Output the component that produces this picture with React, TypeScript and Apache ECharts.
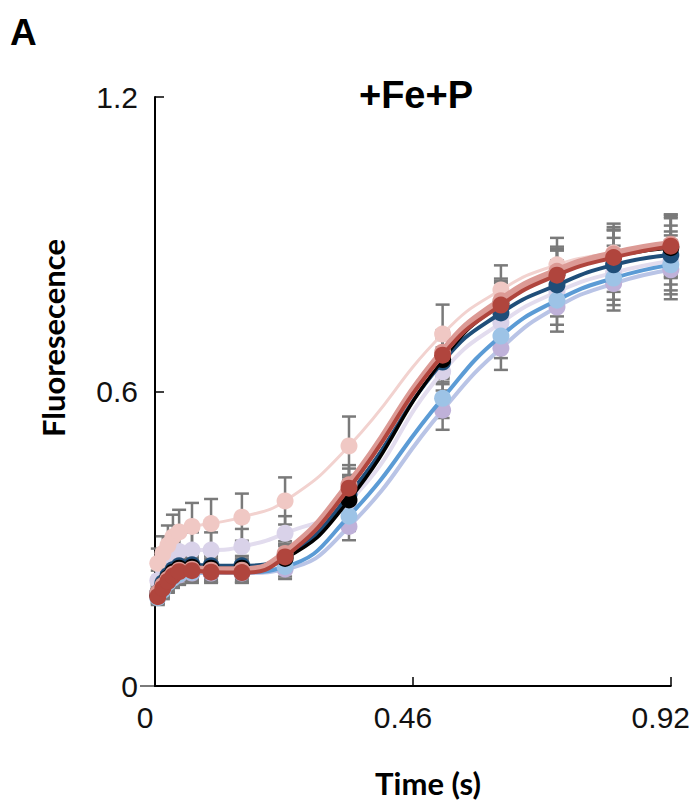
import React, { useEffect, useRef } from "react";
import * as echarts from "echarts";

const times = [0.005, 0.014, 0.023, 0.032, 0.043, 0.066, 0.1, 0.155, 0.232, 0.346, 0.513, 0.617, 0.717, 0.818, 0.92];
const xTicks = [0, 0.46, 0.92];
const yTicks = [0, 0.6, 1.2];

const pinkVals = [0.25, 0.27, 0.287, 0.304, 0.314, 0.325, 0.331, 0.344, 0.377, 0.489, 0.717, 0.807, 0.858, 0.882, 0.896];
const lavenderVals = [0.215, 0.24, 0.26, 0.27, 0.274, 0.277, 0.277, 0.284, 0.311, 0.375, 0.64, 0.74, 0.803, 0.842, 0.866];
const salmonVals = [0.19, 0.205, 0.218, 0.228, 0.236, 0.238, 0.236, 0.236, 0.27, 0.41, 0.68, 0.785, 0.845, 0.88, 0.9];
const redVals = [0.182, 0.199, 0.213, 0.224, 0.233, 0.235, 0.232, 0.231, 0.263, 0.403, 0.674, 0.776, 0.837, 0.873, 0.896];
const navyVals = [0.19, 0.21, 0.225, 0.237, 0.245, 0.247, 0.245, 0.245, 0.265, 0.39, 0.66, 0.76, 0.817, 0.858, 0.878];
const blackVals = [0.185, 0.205, 0.22, 0.232, 0.24, 0.242, 0.24, 0.24, 0.26, 0.379, 0.665, 0.78, 0.84, 0.875, 0.893];
const blueVals = [0.18, 0.195, 0.21, 0.22, 0.228, 0.232, 0.232, 0.232, 0.243, 0.346, 0.586, 0.713, 0.786, 0.831, 0.858];
const purpleVals = [0.185, 0.2, 0.212, 0.22, 0.226, 0.23, 0.23, 0.23, 0.238, 0.325, 0.562, 0.688, 0.772, 0.82, 0.848];

const pinkErr = [0.03, 0.035, 0.04, 0.045, 0.045, 0.048, 0.05, 0.048, 0.048, 0.06, 0.06, 0.05, 0.055, 0.06, 0.065];
const lavenderErr = [0.02, 0.025, 0.03, 0.035, 0.035, 0.036, 0.036, 0.036, 0.035, 0.05, 0.05, 0.045, 0.05, 0.055, 0.06];
const redErr = [0.015, 0.02, 0.02, 0.02, 0.02, 0.02, 0.02, 0.02, 0.025, 0.04, 0.045, 0.045, 0.05, 0.055, 0.06];
const navyErr = [0.015, 0.018, 0.02, 0.02, 0.02, 0.02, 0.02, 0.02, 0.025, 0.04, 0.045, 0.045, 0.05, 0.055, 0.06];
const blackErr = [0.015, 0.018, 0.02, 0.02, 0.02, 0.02, 0.02, 0.02, 0.025, 0.04, 0.045, 0.045, 0.05, 0.055, 0.06];
const blueErr = [0.015, 0.018, 0.02, 0.02, 0.02, 0.02, 0.02, 0.02, 0.02, 0.03, 0.04, 0.045, 0.05, 0.055, 0.06];
const purpleErr = [0.015, 0.018, 0.02, 0.02, 0.02, 0.02, 0.02, 0.02, 0.02, 0.028, 0.04, 0.044, 0.05, 0.055, 0.06];

const seriesDefs = [
  { name: "Lavender", vals: lavenderVals, err: lavenderErr, line: "#e2dcee", marker: "#d9d2e9", width: 4, z: 3 },
  { name: "Purple", vals: purpleVals, err: purpleErr, line: "#b9c4e6", marker: "#bfb1d9", width: 4, z: 4 },
  { name: "Blue", vals: blueVals, err: blueErr, line: "#5b9bd5", marker: "#9dc3e6", width: 4, z: 5 },
  { name: "Pink", vals: pinkVals, err: pinkErr, line: "#f2d2cf", marker: "#f0c8c4", width: 3, z: 6 },
  { name: "Navy", vals: navyVals, err: navyErr, line: "#1f4e79", marker: "#1f4e79", width: 4, z: 7 },
  { name: "Black", vals: blackVals, err: blackErr, line: "#000000", marker: "#000000", width: 3.5, z: 8 },
  { name: "Salmon", vals: salmonVals, err: redErr, line: "#dc9a95", marker: "#dc9a95", width: 8, z: 9 },
  { name: "Red", vals: redVals, err: redErr, line: "#b0453d", marker: "#b0453d", width: 4, z: 10 },
];

export default function App() {
  const ref = useRef<HTMLDivElement>(null);
  useEffect(() => {
    if (!ref.current) return;
    const chart = echarts.init(ref.current, undefined, { renderer: "svg" });

    const errData: number[][] = [];
    seriesDefs.forEach((s) => {
      s.vals.forEach((v, i) => {
        errData.push([times[i], v - s.err[i], v + s.err[i]]);
      });
    });

    const lineSeries = seriesDefs.map((s) => ({
      name: s.name,
      type: "line",
      data: s.vals.map((v, i) => [times[i], v]),
      smooth: 0.5,
      symbol: "circle",
      symbolSize: 17,
      showSymbol: true,
      z: s.z,
      lineStyle: { color: s.line, width: s.width },
      itemStyle: { color: s.marker, borderWidth: 0 },
    }));

    const errSeries = {
      type: "custom",
      z: 1,
      data: errData,
      encode: { x: 0, y: [1, 2] },
      renderItem: (params: any, api: any) => {
        const x = api.value(0);
        const lo = api.coord([x, api.value(1)]);
        const hi = api.coord([x, api.value(2)]);
        const w = 7;
        const style = { stroke: "#7a7a7a", lineWidth: 2.5 };
        return {
          type: "group",
          children: [
            { type: "line", shape: { x1: lo[0], y1: lo[1], x2: hi[0], y2: hi[1] }, style },
            { type: "line", shape: { x1: hi[0] - w, y1: hi[1], x2: hi[0] + w, y2: hi[1] }, style },
            { type: "line", shape: { x1: lo[0] - w, y1: lo[1], x2: lo[0] + w, y2: lo[1] }, style },
          ],
        };
      },
    };

    chart.setOption({
      animation: false,
      backgroundColor: "#ffffff",
      grid: { left: 155, top: 97, right: 22, bottom: 117, containLabel: false },
      xAxis: {
        type: "value",
        min: 0,
        max: 0.92,
        interval: 0.46,
        splitLine: { show: false },
        axisLine: { lineStyle: { color: "#000", width: 2 } },
        axisTick: { inside: true, length: 9, lineStyle: { color: "#000", width: 1.5 } },
        axisLabel: {
          margin: 16,
          fontSize: 30,
          fontFamily: "'Liberation Sans', Arial, sans-serif",
          color: "#111",
          padding: [0, 20, 0, 0],
          formatter: (v: number) => {
            const t = xTicks.find((k) => Math.abs(k - v) < 1e-6);
            return t === undefined ? "" : String(t);
          },
        },
      },
      yAxis: {
        type: "value",
        min: 0,
        max: 1.2,
        interval: 0.6,
        splitLine: { show: false },
        axisLine: { show: true, lineStyle: { color: "#000", width: 2 } },
        axisTick: { show: true, inside: true, length: 9, lineStyle: { color: "#000", width: 1.5 } },
        axisLabel: {
          margin: 17,
          fontSize: 30,
          fontFamily: "'Liberation Sans', Arial, sans-serif",
          color: "#111",
          formatter: (v: number) => {
            const t = yTicks.find((k) => Math.abs(k - v) < 1e-6);
            if (t === undefined) return "";
            return t === 0 ? "0" : t.toFixed(1);
          },
        },
      },
      graphic: [
        {
          type: "text",
          left: 10,
          top: 14,
          style: { text: "A", font: "bold 37px 'Liberation Sans', Arial, sans-serif", fill: "#000" },
        },
        {
          type: "text",
          x: 416,
          y: 76,
          style: {
            text: "+Fe+P",
            font: "bold 38px 'Liberation Sans', Arial, sans-serif",
            fill: "#000",
            textAlign: "center",
            textVerticalAlign: "top",
          },
        },
        {
          type: "text",
          x: 53,
          y: 338,
          rotation: Math.PI / 2,
          style: {
            text: "Fluoresecence",
            font: "bold 31px Lato, 'Open Sans', sans-serif",
            fill: "#000",
            textAlign: "center",
            textVerticalAlign: "middle",
          },
        },
        {
          type: "text",
          x: 428,
          y: 783,
          style: {
            text: "Time (s)",
            font: "bold 31px Lato, 'Open Sans', sans-serif",
            fill: "#000",
            textAlign: "center",
            textVerticalAlign: "middle",
          },
        },
        {
          type: "line",
          shape: { x1: 140, y1: 686, x2: 155, y2: 686 },
          style: { stroke: "#7a7a7a", lineWidth: 2 },
        },
      ],
      series: [errSeries, ...lineSeries],
    });

    return () => chart.dispose();
  }, []);

  return <div ref={ref} style={{ position: "absolute", left: 0, top: 0, width: 693, height: 803 }} />;
}
